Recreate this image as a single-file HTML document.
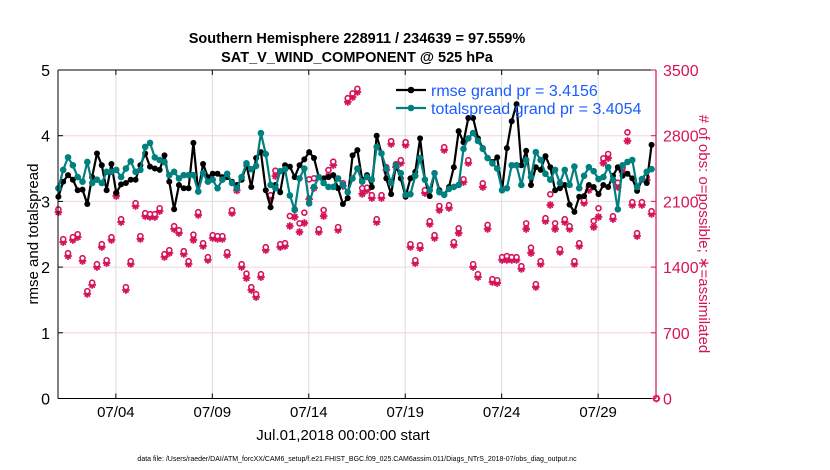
<!DOCTYPE html>
<html><head><meta charset="utf-8"><style>
body{margin:0;background:#fff;}
svg{display:block;font-family:"Liberation Sans",sans-serif;}
</style></head><body>
<svg id="chart" width="830" height="470" viewBox="0 0 830 470" xmlns="http://www.w3.org/2000/svg">
<rect width="830" height="470" fill="#fff"/>
<text x="357" y="43" text-anchor="middle" font-size="14.5" font-weight="bold">Southern Hemisphere 228911 / 234639 = 97.559%</text>
<text x="357" y="62" text-anchor="middle" font-size="14.5" font-weight="bold">SAT_V_WIND_COMPONENT @ 525 hPa</text>
<g id="grid"></g><g id="marks"></g><g id="axes"></g>
<text transform="translate(38,234) rotate(-90)" text-anchor="middle" font-size="15">rmse and totalspread</text>
<text transform="translate(699,234) rotate(90)" text-anchor="middle" font-size="15" fill="#d6135a"># of obs: o=possible; ∗=assimilated</text>
<text x="343" y="440" text-anchor="middle" font-size="15">Jul.01,2018 00:00:00 start</text>
<text x="357" y="461" text-anchor="middle" font-size="7">data file: /Users/raeder/DAI/ATM_forcXX/CAM6_setup/f.e21.FHIST_BGC.f09_025.CAM6assim.011/Diags_NTrS_2018-07/obs_diag_output.nc</text>
<g id="legend"></g>
</svg>
<script>
const rmse=[3.07,3.30,3.40,3.33,3.17,3.18,2.96,3.37,3.73,3.55,3.17,3.57,3.13,3.26,3.28,3.33,3.33,3.55,3.73,3.53,3.50,3.48,3.70,3.30,2.88,3.25,3.20,3.20,3.89,3.15,3.57,3.37,
3.42,3.42,3.37,3.37,3.30,3.25,3.33,3.55,3.22,3.66,3.75,3.17,2.91,3.25,3.14,3.55,3.53,3.37,3.55,3.64,3.75,3.66,3.37,3.35,3.37,3.40,3.20,2.96,3.05,3.70,3.78,
3.33,3.40,3.22,4.00,3.73,3.35,3.11,3.55,3.35,3.07,3.35,3.45,3.96,3.33,3.08,3.43,3.17,3.10,3.22,3.52,4.07,3.90,4.27,4.27,3.96,3.81,3.66,3.60,3.67,3.17,3.81,
4.22,4.48,3.55,3.77,3.25,3.52,3.48,3.69,3.52,3.17,3.20,3.25,2.95,2.84,3.07,3.08,3.25,3.22,3.11,3.25,3.22,3.39,3.52,3.39,3.42,3.35,3.16,3.33,3.28,3.86];
const spread=[3.20,3.48,3.67,3.55,3.37,3.30,3.60,3.28,3.33,3.28,3.45,3.45,3.48,3.37,3.50,3.61,3.45,3.48,3.83,3.89,3.67,3.63,3.60,3.40,3.45,3.35,3.40,3.40,3.40,3.15,3.43,3.30,
3.33,3.20,3.33,3.42,3.28,3.20,3.37,3.58,3.49,3.54,4.04,3.72,3.25,3.20,3.46,3.49,3.09,2.87,3.35,3.50,2.97,3.22,3.37,3.28,3.22,3.22,3.35,3.25,3.14,3.35,3.50,
3.30,3.37,3.33,3.83,3.73,3.50,3.28,3.55,3.43,3.10,3.11,3.39,3.66,3.33,3.17,3.43,3.14,3.10,3.19,3.22,3.25,3.80,3.96,4.04,3.92,3.80,3.66,3.58,3.50,3.17,3.20,
3.55,3.55,3.25,3.63,3.37,3.75,3.63,3.42,3.33,3.48,3.28,3.48,3.25,3.53,3.20,3.39,3.52,3.46,3.34,3.37,3.52,3.33,2.88,3.55,3.60,3.63,3.22,3.34,3.45,3.49];
const obsAssim=[1985,1667,1518,1689,1720,1465,1114,1210,1401,1614,1443,1689,2157,1880,1156,1433,2051,1700,1944,1934,1934,1997,1508,1550,1806,1763,1540,1433,1689,1955,1625,1476,
1710,1700,1700,1529,1976,2217,1401,1283,1156,1081,1294,1582,2136,2370,1614,1625,1838,1934,1774,1870,2125,2242,1774,1944,2370,2487,1796,2264,3160,3212,3266,
2180,2221,2136,1880,2136,2434,2712,2466,2509,2701,1614,1443,1603,2189,1859,1710,2008,2648,2030,1636,1763,2306,2509,1401,1294,2253,1806,1241,1230,1476,1476,
1476,1476,1380,1806,1550,1188,1433,1891,2062,1806,1561,1880,1806,1433,1625,2083,2221,1827,1934,2509,2562,1912,2253,2413,2744,2062,1731,2062,2327,1966,0];
const obsPossible=[2015,1697,1548,1719,1750,1495,1144,1234,1431,1644,1473,1719,2187,1910,1186,1463,2081,1730,1974,1964,1964,2027,1538,1580,1836,1793,1570,1463,1745,1985,1655,1506,
1740,1730,1730,1559,2006,2257,1431,1330,1186,1111,1324,1612,2166,2427,1644,1655,1944,2016,1866,1980,2335,2346,1804,2008,2434,2523,1826,2294,3200,3250,3300,
2240,2246,2166,1910,2166,2464,2742,2496,2539,2731,1644,1473,1633,2219,1889,1740,2051,2678,2060,1666,1813,2336,2539,1431,1324,2293,1849,1271,1260,1506,1518,
1506,1506,1410,1866,1607,1218,1463,1921,2176,1866,1591,1910,1836,1463,1655,2113,2251,1891,2027,2559,2605,1942,2299,2463,2836,2092,1761,2092,2357,1996,0];
const xTickDays=[3,8,13,18,23,28];
const xTickLabels=["07/04","07/09","07/14","07/19","07/24","07/29"];
const yLeftTicks=[0,1,2,3,4,5];
const yRightTicks=[0,700,1400,2100,2800,3500];

const NS="http://www.w3.org/2000/svg";
const L=58,R=656,T=70,B=398.5;
const DAYS=31;
const xScale=d=>L+(d/DAYS)*(R-L);
const yL=v=>B-(v/5)*(B-T);
const yR=v=>B-(v/3500)*(B-T);
const tOf=i=>i*0.25+0.02;
const MAG="#d6135a",TEAL="#00807f";
function mk(tag,attrs,parent){const e=document.createElementNS(NS,tag);for(const k in attrs)e.setAttribute(k,attrs[k]);parent.appendChild(e);return e;}
const grid=document.getElementById('grid'),marks=document.getElementById('marks'),axes=document.getElementById('axes'),legend=document.getElementById('legend');

yRightTicks.forEach(v=>{if(v===0||v===3500)return;
 const g=mk('line',{x1:L,x2:R,y1:yR(v),y2:yR(v),stroke:"#f0d4df","stroke-width":1},grid);
 
 });
xTickDays.forEach(d=>{
 const g=mk('line',{x1:xScale(d),x2:xScale(d),y1:T,y2:B,stroke:"#dcdcdc","stroke-width":1},grid);
 
 });

obsAssim.forEach((v,i)=>{
 const x=xScale(tOf(i)),y=yR(v);
 const g=mk('g',{stroke:MAG,"stroke-width":1.8,fill:"none"},marks);
 
 
 const s=3.8;
 mk('line',{x1:x-s,x2:x+s,y1:y,y2:y},g);mk('line',{x1:x,x2:x,y1:y-s,y2:y+s},g);
 mk('line',{x1:x-s*0.7,x2:x+s*0.7,y1:y-s*0.7,y2:y+s*0.7},g);mk('line',{x1:x-s*0.7,x2:x+s*0.7,y1:y+s*0.7,y2:y-s*0.7},g);
});
obsPossible.forEach((v,i)=>{
 const c=mk('circle',{cx:xScale(tOf(i)),cy:yR(v),r:2.5,stroke:MAG,"stroke-width":1.6,fill:"#fff"},marks);
 
 
});

function series(vals,color,name,r){
 const pts=vals.map((v,i)=>xScale(tOf(i)).toFixed(1)+","+yL(v).toFixed(1)).join(" ");
 const pl=mk('polyline',{points:pts,fill:"none",stroke:color,"stroke-width":2.2,"stroke-linejoin":"round"},marks);
 
 
 vals.forEach((v,i)=>{
  const c=mk('circle',{cx:xScale(tOf(i)),cy:yL(v),r:r,fill:color},marks);
  
  
 });
}
series(rmse,"#000","rmse",3);
series(spread,TEAL,"totalspread",3.3);

const ax=mk('g',{},axes);
mk('line',{x1:L,x2:L,y1:T,y2:B,stroke:"#000","stroke-width":1},ax);
mk('line',{x1:L,x2:R,y1:B,y2:B,stroke:"#000","stroke-width":1},ax);
mk('line',{x1:L,x2:R,y1:T,y2:T,stroke:"#000","stroke-width":1},ax);
mk('line',{x1:R,x2:R,y1:T,y2:B,stroke:MAG,"stroke-width":1.2},ax);
yLeftTicks.forEach(v=>{
 mk('line',{x1:L,x2:L+5,y1:yL(v),y2:yL(v),stroke:"#000"},ax);
 const t=mk('text',{x:L-8,y:yL(v)+6,"text-anchor":"end","font-size":16},ax);
 t.textContent=v;
 
 
});
yRightTicks.forEach(v=>{
 mk('line',{x1:R-5,x2:R,y1:yR(v),y2:yR(v),stroke:MAG},ax);
 const t=mk('text',{x:R+7,y:yR(v)+6,"font-size":16,fill:MAG},ax);
 t.textContent=v;
 
 
});
xTickDays.forEach((d,i)=>{
 mk('line',{x1:xScale(d),x2:xScale(d),y1:B,y2:B-5,stroke:"#000"},ax);
 mk('line',{x1:xScale(d),x2:xScale(d),y1:T,y2:T+5,stroke:"#000"},ax);
 const t=mk('text',{x:xScale(d),y:417,"text-anchor":"middle","font-size":15},ax);
 t.textContent=xTickLabels[i];
 
 
});

[["rmse grand pr = 3.4156","#000",90],["totalspread grand pr = 3.4054",TEAL,108]].forEach(([txt,col,y])=>{
 const g=mk('g',{},legend);
 
 
 mk('line',{x1:396,x2:426,y1:y,y2:y,stroke:col,"stroke-width":2.2},g);
 mk('circle',{cx:411,cy:y,r:3.3,fill:col},g);
 const t=mk('text',{x:431,y:y+6,"font-size":16,fill:"#1a5cff"},g);
 t.textContent=txt;
});
</script>
</body></html>
